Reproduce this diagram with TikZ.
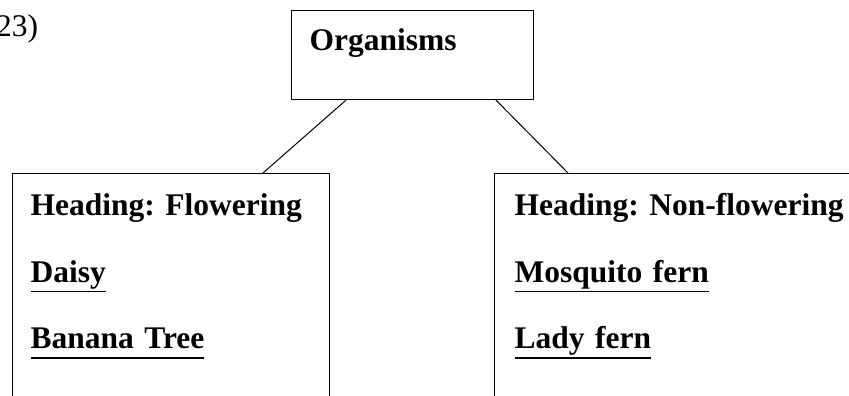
\documentclass[tikz,border=0pt]{standalone}
\usepackage{fontspec}
\setmainfont{Liberation Serif}
\frenchspacing
\newcommand{\gach}[1]{\leavevmode\setbox0\hbox{#1}\rlap{\rule[-10.4pt]{\wd0}{1.8pt}}#1}
\begin{document}
\begin{tikzpicture}[x=1pt, y=1pt, line join=round, line cap=round,
	khung/.style={draw, line width=1.1pt, anchor=north west, align=left,
		inner xsep=18pt, inner ysep=20pt, text height=22pt,
		font=\fontsize{31.5}{66.5}\selectfont\bfseries}]
	\useasboundingbox (0,0) rectangle (849,-396);
	
	% 1. Số thứ tự câu (bị cắt ở mép trái)
	\node[anchor=base west, inner sep=0pt, font=\fontsize{31.5}{38}\selectfont] (cau) at (-4,-37) {23)};
	
	% 2. Hộp gốc
	\node[khung, text width=206pt, inner ysep=18pt, text depth=31pt] (org) at (291,-10) {Organisms};
	
	% 3. Hai hộp phân loại (hở ở đáy)
	\node[khung, text width=281pt, text depth=260pt] (flow) at (12,-173)
		{Heading: Flowering\\ \gach{Daisy}\\ \gach{Banana Tree}};
	\node[khung, inner xsep=20pt, text width=360pt, text depth=260pt] (nonflow) at (494,-173)
		{Heading: Non-flowering\\ \gach{Mosquito fern}\\ \gach{Lady fern}};
	
	% 4. Các đường nối
	\draw[line width=1pt] ([xshift=55pt]org.south west) -- ([xshift=251pt]flow.north west);
	\draw[line width=1pt] ([xshift=205pt]org.south west) -- ([xshift=74pt]nonflow.north west);
\end{tikzpicture}
\end{document}
